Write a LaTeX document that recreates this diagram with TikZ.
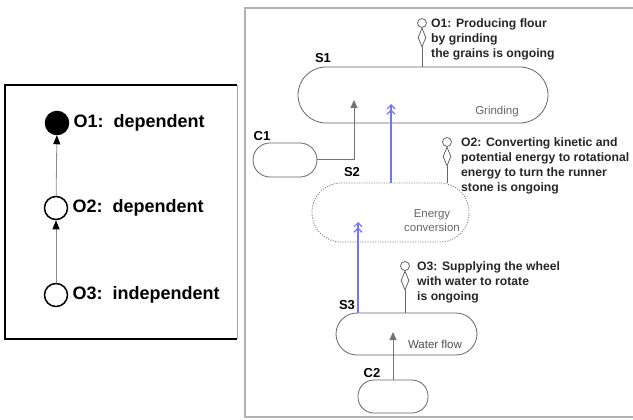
\documentclass[tikz,border=0pt]{standalone}
\usepackage{fontspec}
\setmainfont{Liberation Sans}
\usetikzlibrary{shapes.geometric, arrows.meta}
\tikzstyle{stad}=[rectangle, draw=black!60, line width=0.8pt, inner sep=0pt]
\tikzstyle{lbl}=[font=\fontsize{13}{15}\selectfont\bfseries]
\tikzstyle{inside}=[font=\fontsize{11.5}{14}\selectfont, text=black!60, align=center]
\tikzstyle{obstext}=[align=left, anchor=north west, inner sep=0pt, font=\fontsize{12.2}{15}\selectfont\bfseries, text=black!85]
\tikzstyle{ring}=[circle, draw=black!60, line width=0.8pt, fill=white, minimum size=9pt, inner sep=0pt]
\tikzstyle{rhomb}=[diamond, draw=black!60, line width=0.8pt, fill=white, minimum width=8pt, minimum height=19pt, inner sep=0pt]
\tikzstyle{dep}=[draw=black!55, line width=1pt, -{Triangle[length=8pt, width=7pt]}]
\tikzstyle{flow}=[draw=blue!55, line width=1.2pt, -{Straight Barb[length=4pt, width=8pt] Straight Barb[length=4pt, width=8pt]}]
\tikzstyle{obs}=[circle, draw, line width=1.5pt, minimum size=23pt, inner sep=0pt]
\tikzstyle{obslbl}=[anchor=west, font=\fontsize{18}{20}\selectfont\bfseries]

\begin{document}
\begin{tikzpicture}[x=1pt, y=-1pt]
                    \useasboundingbox (0, 0) rectangle (633, 420);
                    \draw[line width=2.2pt] (237, 85) -- (5, 85) -- (5, 339) -- (237, 339);
                    \draw[black!35, thin] (237, 85) -- (237, 339);
                    \node[obs, fill=black] (l1) at (57, 123) {};
                    \node[obs, fill=white] (l2) at (56, 208) {};
                    \node[obs, fill=white] (l3) at (56, 295) {};
                    \node[obslbl] at (70, 123) {O1:\ \ dependent};
                    \node[obslbl] at (69, 208) {O2:\ \ dependent};
                    \node[obslbl] at (69, 295) {O3:\ \ independent};
                    \draw[black!45, line width=0.8pt, -{Triangle[length=9pt, width=7pt, color=black]}] (l2) -- (l1);
                    \draw[black!45, line width=0.8pt, -{Triangle[length=9pt, width=7pt, color=black]}] (l3) -- (l2);
                    \draw[black!30, line width=1.2pt] (633, 8) -- (245, 8) -- (245, 417) -- (633, 417);
                    \node[stad, minimum width=250pt, minimum height=56pt, rounded corners=28pt] (s1) at (423, 95) {};
                    \node[stad, minimum width=64pt, minimum height=34pt, rounded corners=17pt] (c1) at (285, 160) {};
                    \node[stad, draw=black!50, dash pattern=on 1.2pt off 1.3pt, minimum width=157pt, minimum height=59pt, rounded corners=29pt] (s2) at (390.5, 212.5) {};
                    \node[stad, minimum width=141pt, minimum height=42pt, rounded corners=21pt] (s3) at (406.5, 334) {};
                    \node[stad, minimum width=70pt, minimum height=33pt, rounded corners=16pt] (c2) at (393, 396.5) {};
                    \node[lbl] at (323, 58) {S1};
                    \node[lbl] at (262, 136) {C1};
                    \node[lbl] at (352, 172) {S2};
                    \node[lbl] at (347, 305) {S3};
                    \node[lbl] at (372, 373) {C2};
                    \node[inside] at (497, 112) {Grinding};
                    \node[inside] at (432, 221) {Energy\\conversion};
                    \node[inside, text=black!70] at (435, 344) {Water flow};
                    \coordinate (g1) at (354, 100);
                    \coordinate (g2) at (393, 332);
                    \coordinate (b1) at (391, 104);
                    \coordinate (b2) at (358, 222);
                    \draw[dep] (c1.east) -| (g1);
                    \draw[dep] (g2 |- c2.north) -- (g2);
                    \draw[flow] (b1 |- s2.north) -- (b1);
                    \draw[flow] (b2 |- s3.north) -- (b2);
                    \node[ring] (o1r) at (422, 23) {};
                    \node[rhomb] (o1d) at (422, 37.5) {};
                    \node[ring] (o2r) at (447, 142) {};
                    \node[rhomb] (o2d) at (447, 156.5) {};
                    \node[ring] (o3r) at (405, 266) {};
                    \node[rhomb] (o3d) at (405, 280.5) {};
                    \draw[black!60, line width=0.8pt] (o1d.south) -- (o1d.south |- s1.north) (o2d.south) -- (o2d.south |- s2.north) (o3d.south) -- (o3d.south |- s3.north);
                    \node[obstext] at (431, 18.3) {O1: Producing flour\\by grinding\\the grains is ongoing};
                    \node[obstext] at (461, 137.3) {O2: Converting kinetic and\\potential energy to rotational\\energy to turn the runner\\stone is ongoing};
                    \node[obstext] at (417, 261.3) {O3: Supplying the wheel\\with water to rotate\\is ongoing};
                \end{tikzpicture}
\end{document}
